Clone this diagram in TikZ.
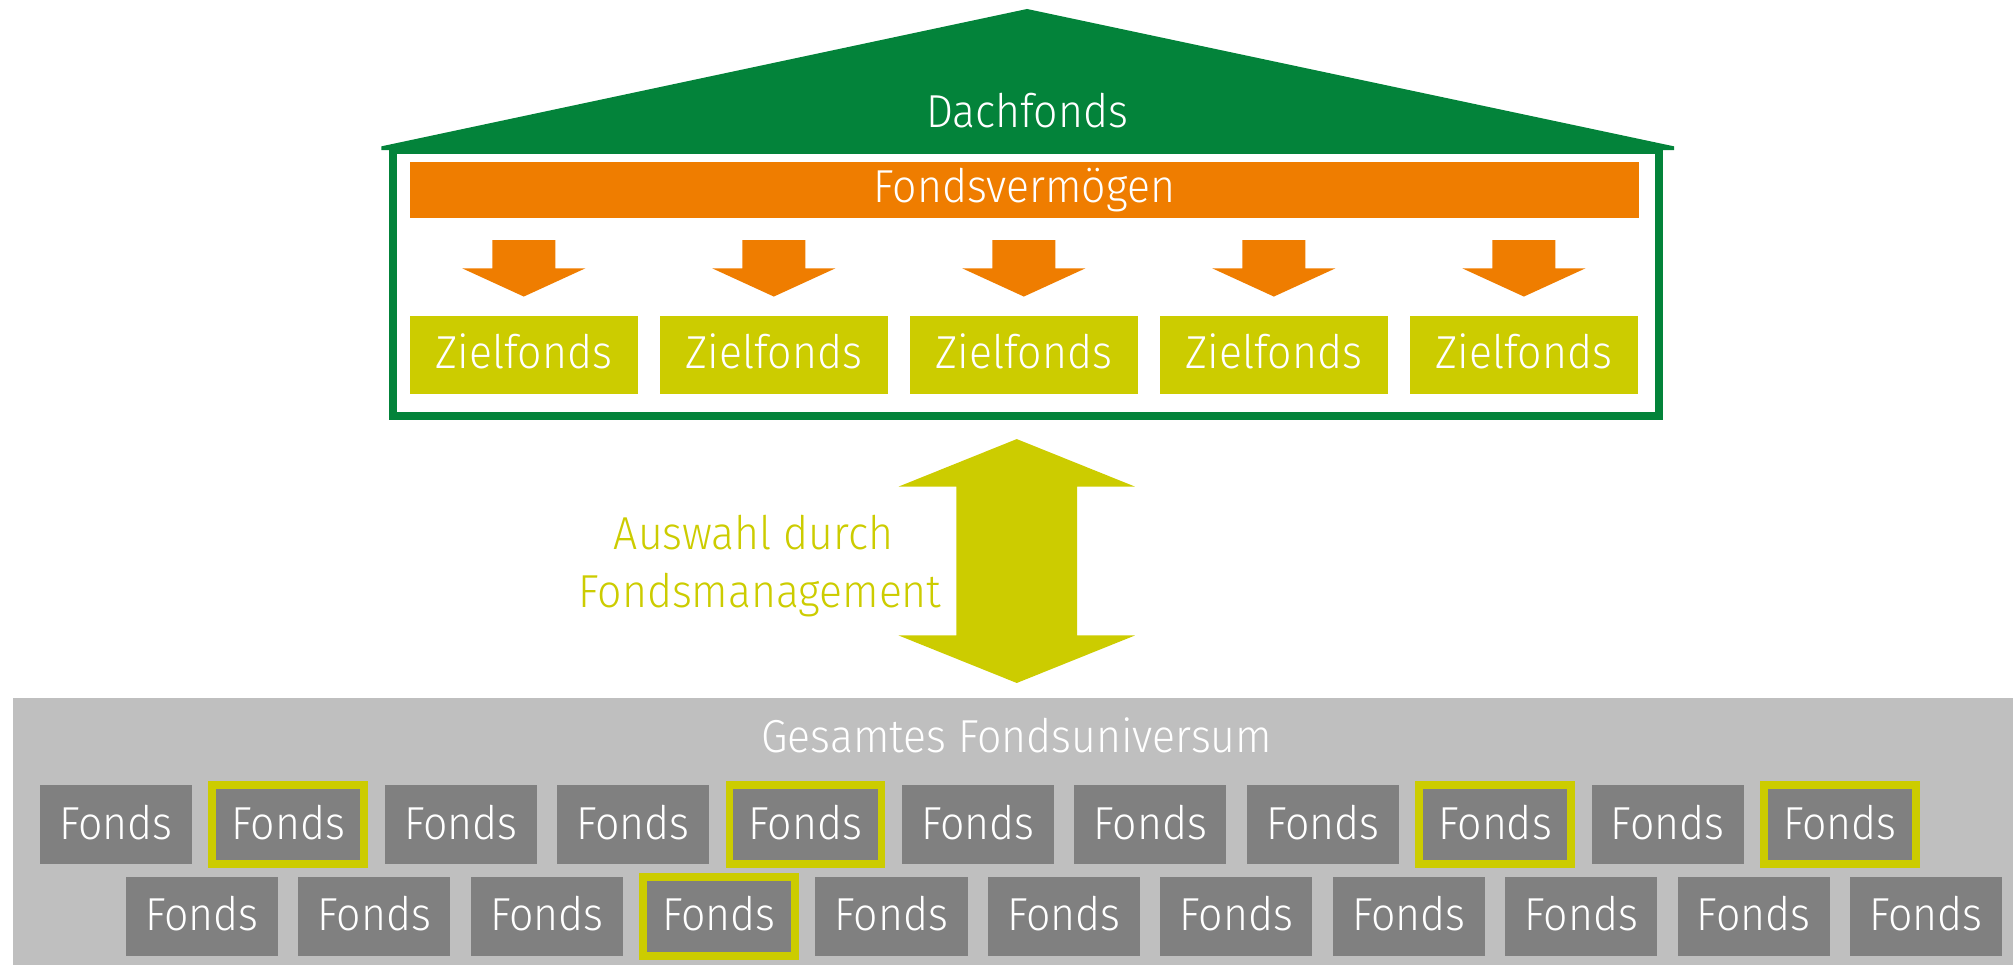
\documentclass[tikz,border=0pt]{standalone}
\usepackage{fontspec}
\setmainfont{Fira Sans Light}[FakeStretch=0.925]
\definecolor{dgreen}{RGB}{3,131,58}
\definecolor{orng}{RGB}{239,125,0}
\definecolor{ylw}{RGB}{204,204,0}
\definecolor{dgray}{RGB}{128,128,128}
\definecolor{lgray}{RGB}{191,191,191}
\begin{document}
\begin{tikzpicture}[x=1pt,y=-1pt,
  every node/.style={inner sep=0pt, outer sep=0pt},
  txt/.style={font=\fontsize{36}{40}\selectfont, text=white, anchor=base},
  zielbox/.style={fill=ylw, minimum width=178pt, minimum height=61pt},
  fondbox/.style={fill=dgray, minimum width=118.5pt, minimum height=61.5pt},
  hlbox/.style={fondbox, draw=ylw, line width=6pt},
  barbox/.style={fill=orng, minimum width=958pt, minimum height=44pt}]
\useasboundingbox (0,0) rectangle (1568,752);
% roof and house
\fill[dgreen] (297,114) -- (800,7) -- (1304,114) -- (1304,117) -- (297,117) -- cycle;
\draw[dgreen, line width=6pt] (306,117) rectangle (1292,324);
\node[txt] (dach) at (800,99) {Dachfonds};
% Fondsvermoegen bar
\node[barbox] (verm) at (798,148) {};
\node[txt] (vermtxt) at (798,158) {Fondsvermögen};
% orange arrows and Zielfonds
\foreach \i in {0,...,4}{
  \pgfmathsetmacro{\c}{408+194.75*\i}
  \fill[orng] (\c-24.5,187) -- (\c+24.5,187) -- (\c+24.5,209) -- (\c+48,209)
     -- (\c,231) -- (\c-48,209) -- (\c-24.5,209) -- cycle;
  \node[zielbox] (ziel\i) at (\c,276.5) {};
  \node[txt] (zieltxt\i) at (\c,287) {Zielfonds};
}
% double arrow
\fill[ylw] (792,342) -- (884,379) -- (839,379) -- (839,495) -- (884,495)
  -- (792,532) -- (700,495) -- (745,495) -- (745,379) -- (700,379) -- cycle;
\node[txt, text=ylw] (ausw1) at (587,428) {Auswahl durch};
\node[txt, text=ylw] (ausw2) at (592,473) {Fondsmanagement};
% universe
\fill[lgray] (10,544) rectangle (1568,752);
\node[txt] (univ) at (792,586) {Gesamtes Fondsuniversum};
\foreach \i in {0,...,10}{
  \pgfmathsetmacro{\c}{90.25+134.3*\i}
  \node[fondbox] (fa\i) at (\c,642.25) {};
}
\foreach \i in {1,4,8,10}{
  \pgfmathsetmacro{\c}{90.25+134.3*\i}
  \node[hlbox] (ha\i) at (\c,642.25) {};
}
\foreach \i in {0,...,10}{
  \pgfmathsetmacro{\c}{90.25+134.3*\i}
  \node[txt] (ta\i) at (\c,654) {Fonds};
}
\foreach \i in {0,...,10}{
  \pgfmathsetmacro{\c}{157.25+134.3*\i}
  \node[fondbox] (fb\i) at (\c,714) {};
}
\node[hlbox] (hb3) at (157.25+134.3*3,714) {};
\foreach \i in {0,...,10}{
  \pgfmathsetmacro{\c}{157.25+134.3*\i}
  \node[txt] (tb\i) at (\c,725) {Fonds};
}
\end{tikzpicture}
\end{document}
